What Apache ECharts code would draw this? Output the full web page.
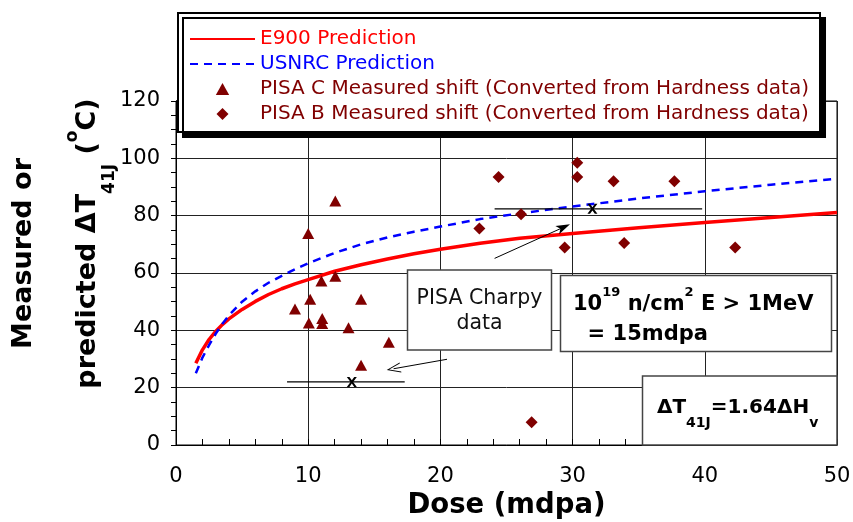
<!DOCTYPE html>
<html><head><meta charset="utf-8">
<script src="https://cdn.jsdelivr.net/npm/echarts@6/dist/echarts.min.js"></script>
<style>html,body{margin:0;padding:0;background:#fff}#chart{width:853px;height:522px}</style>
</head><body><div id="chart"></div>
<script>
const FONT = 'DejaVu Sans';
// ---- data ----
const e900Dose  = [1.5, 2, 2.5, 3, 3.5, 4, 5, 6, 7, 8, 9, 10, 12, 14, 16, 18, 20, 23, 26, 30, 35, 40, 45, 50];
const e900Shift = [28.5, 33.2, 36.8, 39.6, 42.0, 44.0, 47.3, 50.1, 52.5, 54.5, 56.2, 57.7, 60.6, 62.9, 64.9, 66.7, 68.3, 70.4, 72.1, 73.8, 75.8, 77.6, 79.4, 81.1];
const usnrcDose  = [1.5, 2, 2.5, 3, 3.5, 4, 5, 6, 7, 8, 9, 10, 12, 14, 16, 18, 20, 23, 26, 30, 35, 40, 45, 50];
const usnrcShift = [25.0, 30.5, 34.8, 38.8, 42.2, 45.2, 50.0, 53.6, 56.6, 59.0, 61.3, 63.4, 67.0, 70.0, 72.4, 74.4, 76.2, 78.8, 80.8, 83.2, 86.0, 88.5, 90.8, 92.9];
const pisaCDose  = [12.05, 10.0, 11.0, 12.05, 10.15, 14.0, 9.0, 10.05, 11.06, 11.06, 13.05, 16.1, 14.0];
const pisaCShift = [85.1, 73.8, 57.2, 58.9, 50.8, 50.8, 47.4, 42.6, 44.1, 42.4, 40.9, 35.8, 27.8];
const pisaBDose  = [24.4, 30.35, 30.35, 33.1, 37.7, 26.1, 22.95, 29.4, 33.9, 42.3, 26.9];
const pisaBShift = [93.5, 98.5, 93.5, 92.0, 92.0, 80.5, 75.5, 68.9, 70.5, 68.9, 7.9];
const charpyDose  = [13.3, 31.5];
const charpyShift = [22.0, 82.4];
const charpyLow   = [8.4, 24.1];
const charpyHigh  = [17.3, 39.8];
const arrowFrom = [[20.5, 29.9], [24.1, 65.1]];
const arrowTo   = [[16.46, 26.6], [29.32, 75.97]];
const seriesNames = ['E900 Prediction', 'USNRC Prediction',
  'PISA C Measured shift (Converted from Hardness data)',
  'PISA B Measured shift (Converted from Hardness data)'];

const zip = (a, b) => a.map((v, i) => [v, b[i]]);
const DARK = '#800000';
const TRI = 'path://M5,0L10,9L0,9Z';
const DIA = 'path://M5,0L10,5L5,10L0,5Z';
const XMARK = 'path://M0,0L2.6,0L5,3.4L7.4,0L10,0L6.3,5L10,10L7.4,10L5,6.6L2.6,10L0,10L3.7,5Z';
const CHEVRON = 'path://M5,0L10,12L9,12L5,2.2L1,12L0,12Z';
const FILLARROW = 'path://M5,0L10,14L5,10.5L0,14Z';

const chart = echarts.init(document.getElementById('chart'));

const errorBars = charpyDose.map((d, i) => ({
  type: 'line', data: [[charpyLow[i], charpyShift[i]], [charpyHigh[i], charpyShift[i]]],
  symbol: 'none', silent: true, lineStyle: {color: '#000', width: 1.2}, z: 3
}));

const option = {
  animation: false,
  textStyle: {fontFamily: FONT},
  grid: {left: 176, right: 16, top: 101, bottom: 77, containLabel: false, outerBoundsMode: 'none',
    show: true, borderColor: '#000', borderWidth: 1},
  legend: {
    orient: 'vertical', left: 178, top: 13, itemWidth: 65, itemHeight: 12, itemGap: 5,
    padding: [16, 11, 8, 11], backgroundColor: '#fff', borderColor: '#000', borderWidth: 2,
    shadowColor: '#000', shadowBlur: 0, shadowOffsetX: 5, shadowOffsetY: 5,
    selectedMode: false,
    textStyle: {fontFamily: FONT, fontSize: 20},
    data: [
      {name: seriesNames[0], textStyle: {color: '#ff0000'}, itemStyle: {opacity: 0}},
      {name: seriesNames[1], textStyle: {color: '#0000ff'}, itemStyle: {opacity: 0}},
      {name: seriesNames[2], textStyle: {color: DARK}},
      {name: seriesNames[3], textStyle: {color: DARK}}
    ]
  },
  xAxis: [
    {type: 'value', min: 0, max: 50, interval: 10, position: 'bottom',
     axisLine: {show: true, onZero: false, lineStyle: {color: '#000', width: 1}},
     axisTick: {show: false},
     axisLabel: {fontFamily: FONT, fontSize: 21, color: '#000', margin: 21},
     splitLine: {show: true, lineStyle: {color: '#222', width: 1}},
     name: 'Dose (mdpa)', nameLocation: 'middle', nameGap: 44,
     nameTextStyle: {fontFamily: FONT, fontSize: 27.5, fontWeight: 'bold', color: '#000'}},
    {type: 'value', min: 0, max: 50, interval: 2, position: 'bottom',
     axisLine: {show: false}, axisTick: {show: true, inside: true, length: 6, lineStyle: {color: '#000'}},
     axisLabel: {show: false}, splitLine: {show: false}}
  ],
  yAxis: [
    {type: 'value', min: 0, max: 120, interval: 20,
     axisLine: {show: true, lineStyle: {color: '#000'}}, axisTick: {show: false},
     axisLabel: {fontFamily: FONT, fontSize: 21, color: '#000', margin: 16},
     splitLine: {show: true, lineStyle: {color: '#222', width: 1}}},
    {type: 'value', min: 0, max: 120, interval: 5, position: 'right',
     axisLine: {show: true, lineStyle: {color: '#000'}},
     axisTick: {show: true, inside: true, length: 5, lineStyle: {color: '#000'}},
     axisLabel: {show: false}, splitLine: {show: false}}
  ],
  series: [
    {name: seriesNames[0], type: 'line', data: zip(e900Dose, e900Shift), symbol: 'none',
     smooth: false, lineStyle: {color: '#ff0000', width: 3.5, join: 'round'}, itemStyle: {color: '#ff0000'}, z: 3},
    {name: seriesNames[1], type: 'line', data: zip(usnrcDose, usnrcShift), symbol: 'none',
     smooth: false, lineStyle: {color: '#0000ff', width: 2.5, type: [8, 6]}, itemStyle: {color: '#0000ff'}, z: 3},
    ...errorBars,
    {type: 'scatter', data: zip(charpyDose, charpyShift), symbol: XMARK, symbolSize: 10, silent: true,
     itemStyle: {color: '#000', opacity: 1}, z: 4,
     markLine: {silent: true, animation: false, label: {show: false},
       lineStyle: {color: '#000', width: 1, type: 'solid'},
       data: [
         [{coord: arrowFrom[0], symbol: 'none'}, {coord: arrowTo[0], symbol: CHEVRON, symbolSize: [10, 14]}],
         [{coord: arrowFrom[1], symbol: 'none'}, {coord: arrowTo[1], symbol: FILLARROW, symbolSize: [9, 14]}]
       ]}},
    {name: seriesNames[2], type: 'scatter', data: zip(pisaCDose, pisaCShift), symbol: TRI, symbolSize: [12, 11],
     itemStyle: {color: DARK, opacity: 1}, z: 5},
    {name: seriesNames[3], type: 'scatter', data: zip(pisaBDose, pisaBShift), symbol: DIA, symbolSize: 12,
     itemStyle: {color: DARK, opacity: 1}, z: 5}
  ],
  graphic: [
    {type: 'text', x: 23.7, y: 253.5, rotation: Math.PI / 2, z: 100,
     style: {text: 'Measured or', fontFamily: FONT, fontSize: 27, fontWeight: 'bold', fill: '#000',
       align: 'center', verticalAlign: 'middle', textAlign: 'center', textVerticalAlign: 'middle'}},
    {type: 'text', x: 63.9, y: 243.5, rotation: Math.PI / 2, z: 100,
     style: {text: '{m|predicted ΔT}{s|41J}{m| (}{u|o}{m|C)}', fill: '#000',
       align: 'center', verticalAlign: 'top', textAlign: 'center', textVerticalAlign: 'top',
       rich: {
         m: {fontFamily: FONT, fontSize: 27, fontWeight: 'bold', fill: '#000', height: 27, lineHeight: 60, padding: [10.3, 0, 0, 0], verticalAlign: 'top'},
         s: {fontFamily: FONT, fontSize: 17, fontWeight: 'bold', fill: '#000', height: 17, lineHeight: 60, padding: [36.7, 0, 0, 0], verticalAlign: 'top'},
         u: {fontFamily: FONT, fontSize: 17, fontWeight: 'bold', fill: '#000', height: 17, lineHeight: 60, padding: [0, 0, 0, 0], verticalAlign: 'top'}
       }}},
    {type: 'rect', z: 100, shape: {x: 407.5, y: 270, width: 144, height: 80},
     style: {fill: '#fff', stroke: '#444', lineWidth: 1.5}},
    {type: 'text', z: 101, x: 479.5, y: 311.4,
     style: {text: 'PISA Charpy\ndata', fontFamily: FONT, fontSize: 20.5, lineHeight: 25, fill: '#111',
       align: 'center', verticalAlign: 'middle', textAlign: 'center', textVerticalAlign: 'middle'}},
    {type: 'rect', z: 100, shape: {x: 560.5, y: 275.5, width: 271, height: 76},
     style: {fill: '#fff', stroke: '#444', lineWidth: 1.5}},
    {type: 'text', z: 101, x: 573, y: 285.2,
     style: {text: '{m|10}{s|19}{m| n/cm}{s|2}{m| E > 1MeV}\n{m|  = 15mdpa}', fill: '#000',
       align: 'left', verticalAlign: 'top', textAlign: 'left', textVerticalAlign: 'top',
       rich: {
         m: {fontFamily: FONT, fontSize: 21, fontWeight: 'bold', fill: '#000', height: 21, lineHeight: 30, padding: [9, 0, 0, 0], verticalAlign: 'top'},
         s: {fontFamily: FONT, fontSize: 13, fontWeight: 'bold', fill: '#000', height: 13, lineHeight: 30, padding: [1.3, 0, 0, 0], verticalAlign: 'top'}
       }}},
    {type: 'rect', z: 100, shape: {x: 642.5, y: 376, width: 194.5, height: 69},
     style: {fill: '#fff', stroke: '#444', lineWidth: 1.5}},
    {type: 'text', z: 101, x: 657, y: 398.1,
     style: {text: '{m|ΔT}{s|41J}{m|=1.64ΔH}{s|v}', fill: '#000',
       align: 'left', verticalAlign: 'top', textAlign: 'left', textVerticalAlign: 'top',
       rich: {
         m: {fontFamily: FONT, fontSize: 20, fontWeight: 'bold', fill: '#000', height: 20, lineHeight: 40, padding: [0, 0, 0, 0], verticalAlign: 'top'},
         s: {fontFamily: FONT, fontSize: 14, fontWeight: 'bold', fill: '#000', height: 14, lineHeight: 40, padding: [18.1, 0, 0, 0], verticalAlign: 'top'}
       }}}
  ]
};
chart.setOption(option);
</script>
</body></html>
